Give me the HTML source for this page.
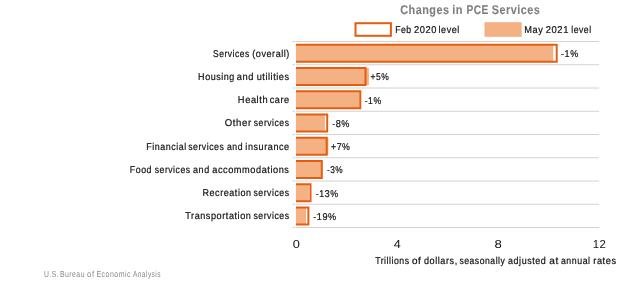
<!DOCTYPE html>
<html><head><meta charset="utf-8"><style>
html,body{margin:0;padding:0;background:#fff;width:633px;height:288px;overflow:hidden}
.wrap{will-change:transform;background:#fff;width:633px;height:288px}
svg{display:block;font-family:"Liberation Sans",sans-serif;text-rendering:geometricPrecision;letter-spacing:0.6px}
</style></head><body><div class="wrap">
<svg width="633" height="288" viewBox="0 0 633 288">
<line x1="292.5" y1="41.50" x2="599.2" y2="41.50" stroke="#D2D2D2" stroke-width="1"/>
<line x1="292.5" y1="64.75" x2="599.2" y2="64.75" stroke="#D2D2D2" stroke-width="1"/>
<line x1="292.5" y1="88.00" x2="599.2" y2="88.00" stroke="#D2D2D2" stroke-width="1"/>
<line x1="292.5" y1="111.25" x2="599.2" y2="111.25" stroke="#D2D2D2" stroke-width="1"/>
<line x1="292.5" y1="134.50" x2="599.2" y2="134.50" stroke="#D2D2D2" stroke-width="1"/>
<line x1="292.5" y1="157.75" x2="599.2" y2="157.75" stroke="#D2D2D2" stroke-width="1"/>
<line x1="292.5" y1="181.00" x2="599.2" y2="181.00" stroke="#D2D2D2" stroke-width="1"/>
<line x1="292.5" y1="204.25" x2="599.2" y2="204.25" stroke="#D2D2D2" stroke-width="1"/>
<line x1="292.5" y1="227.50" x2="599.2" y2="227.50" stroke="#D2D2D2" stroke-width="1"/>
<line x1="295.5" y1="41" x2="295.5" y2="228" stroke="#F7FAFC" stroke-width="1"/>
<rect x="296.00" y="44.80" width="257.20" height="17" fill="#F4B183"/>
<path d="M296.00 44.80H556.70V61.80H296.00" fill="none" stroke="#E65D10" stroke-width="2"/>
<rect x="296.00" y="68.05" width="72.90" height="17" fill="#F4B183"/>
<path d="M296.00 68.05H365.50V85.05H296.00" fill="none" stroke="#E65D10" stroke-width="2"/>
<rect x="296.00" y="91.30" width="63.50" height="17" fill="#F4B183"/>
<path d="M296.00 91.30H360.30V108.30H296.00" fill="none" stroke="#E65D10" stroke-width="2"/>
<rect x="296.00" y="114.55" width="28.90" height="17" fill="#F4B183"/>
<path d="M296.00 114.55H327.20V131.55H296.00" fill="none" stroke="#E65D10" stroke-width="2"/>
<rect x="296.00" y="137.80" width="32.40" height="17" fill="#F4B183"/>
<path d="M296.00 137.80H326.70V154.80H296.00" fill="none" stroke="#E65D10" stroke-width="2"/>
<rect x="296.00" y="161.05" width="25.00" height="17" fill="#F4B183"/>
<path d="M296.00 161.05H321.80V178.05H296.00" fill="none" stroke="#E65D10" stroke-width="2"/>
<rect x="296.00" y="184.30" width="12.90" height="17" fill="#F4B183"/>
<path d="M296.00 184.30H310.50V201.30H296.00" fill="none" stroke="#E65D10" stroke-width="2"/>
<rect x="296.00" y="207.55" width="10.00" height="17" fill="#F4B183"/>
<path d="M296.00 207.55H308.40V224.55H296.00" fill="none" stroke="#E65D10" stroke-width="2"/>
<rect x="355.5" y="23.2" width="35.4" height="12.6" fill="none" stroke="#E65D10" stroke-width="2"/>
<rect x="484.5" y="22.2" width="37.2" height="14.6" fill="#F4B183"/>
<text id="title_0" x="400.15" y="13.50" textLength="49.50" lengthAdjust="spacingAndGlyphs" font-size="12.6" font-weight="bold" fill="#7F7F7F" stroke="#7F7F7F" stroke-width="0.1">Changes</text>
<text id="title_1" x="452.23" y="13.50" textLength="10.80" lengthAdjust="spacingAndGlyphs" font-size="12.6" font-weight="bold" fill="#7F7F7F" stroke="#7F7F7F" stroke-width="0.1">in</text>
<text id="title_2" x="466.49" y="13.50" textLength="22.37" lengthAdjust="spacingAndGlyphs" font-size="12.6" font-weight="bold" fill="#7F7F7F" stroke="#7F7F7F" stroke-width="0.1">PCE</text>
<text id="title_3" x="491.74" y="13.50" textLength="48.57" lengthAdjust="spacingAndGlyphs" font-size="12.6" font-weight="bold" fill="#7F7F7F" stroke="#7F7F7F" stroke-width="0.1">Services</text>
<text id="leg1_0" x="395.17" y="32.50" textLength="16.54" lengthAdjust="spacingAndGlyphs" font-size="9.9" font-weight="normal" fill="#111111" stroke="#111111" stroke-width="0.2">Feb</text>
<text id="leg1_1" x="414.03" y="32.50" textLength="23.01" lengthAdjust="spacingAndGlyphs" font-size="9.9" font-weight="normal" fill="#111111" stroke="#111111" stroke-width="0.2">2020</text>
<text id="leg1_2" x="438.57" y="32.50" textLength="21.27" lengthAdjust="spacingAndGlyphs" font-size="9.9" font-weight="normal" fill="#111111" stroke="#111111" stroke-width="0.2">level</text>
<text id="leg2_0" x="524.35" y="32.50" textLength="19.17" lengthAdjust="spacingAndGlyphs" font-size="9.9" font-weight="normal" fill="#111111" stroke="#111111" stroke-width="0.2">May</text>
<text id="leg2_1" x="545.68" y="32.50" textLength="23.28" lengthAdjust="spacingAndGlyphs" font-size="9.9" font-weight="normal" fill="#111111" stroke="#111111" stroke-width="0.2">2021</text>
<text id="leg2_2" x="571.20" y="32.50" textLength="20.39" lengthAdjust="spacingAndGlyphs" font-size="9.9" font-weight="normal" fill="#111111" stroke="#111111" stroke-width="0.2">level</text>
<text id="cat0_0" x="213.08" y="56.70" textLength="36.67" lengthAdjust="spacingAndGlyphs" font-size="9.9" font-weight="normal" fill="#111111" stroke="#111111" stroke-width="0.2">Services</text>
<text id="cat0_1" x="252.27" y="56.70" textLength="37.66" lengthAdjust="spacingAndGlyphs" font-size="9.9" font-weight="normal" fill="#111111" stroke="#111111" stroke-width="0.2">(overall)</text>
<text id="pct0_0" x="561.04" y="57.10" textLength="17.77" lengthAdjust="spacingAndGlyphs" font-size="9.9" font-weight="normal" fill="#111111" stroke="#111111" stroke-width="0.2">-1%</text>
<text id="cat1_0" x="198.12" y="79.91" textLength="36.74" lengthAdjust="spacingAndGlyphs" font-size="9.9" font-weight="normal" fill="#111111" stroke="#111111" stroke-width="0.2">Housing</text>
<text id="cat1_1" x="236.82" y="79.91" textLength="17.26" lengthAdjust="spacingAndGlyphs" font-size="9.9" font-weight="normal" fill="#111111" stroke="#111111" stroke-width="0.2">and</text>
<text id="cat1_2" x="256.67" y="79.91" textLength="33.01" lengthAdjust="spacingAndGlyphs" font-size="9.9" font-weight="normal" fill="#111111" stroke="#111111" stroke-width="0.2">utilities</text>
<text id="pct1_0" x="370.53" y="80.35" textLength="18.75" lengthAdjust="spacingAndGlyphs" font-size="9.9" font-weight="normal" fill="#111111" stroke="#111111" stroke-width="0.2">+5%</text>
<text id="cat2_0" x="237.87" y="103.12" textLength="30.28" lengthAdjust="spacingAndGlyphs" font-size="9.9" font-weight="normal" fill="#111111" stroke="#111111" stroke-width="0.2">Health</text>
<text id="cat2_1" x="269.75" y="103.12" textLength="19.96" lengthAdjust="spacingAndGlyphs" font-size="9.9" font-weight="normal" fill="#111111" stroke="#111111" stroke-width="0.2">care</text>
<text id="pct2_0" x="364.69" y="103.60" textLength="17.04" lengthAdjust="spacingAndGlyphs" font-size="9.9" font-weight="normal" fill="#111111" stroke="#111111" stroke-width="0.2">-1%</text>
<text id="cat3_0" x="224.74" y="126.33" textLength="27.01" lengthAdjust="spacingAndGlyphs" font-size="9.9" font-weight="normal" fill="#111111" stroke="#111111" stroke-width="0.2">Other</text>
<text id="cat3_1" x="253.80" y="126.33" textLength="35.67" lengthAdjust="spacingAndGlyphs" font-size="9.9" font-weight="normal" fill="#111111" stroke="#111111" stroke-width="0.2">services</text>
<text id="pct3_0" x="332.14" y="126.85" textLength="17.93" lengthAdjust="spacingAndGlyphs" font-size="9.9" font-weight="normal" fill="#111111" stroke="#111111" stroke-width="0.2">-8%</text>
<text id="cat4_0" x="146.27" y="149.54" textLength="40.39" lengthAdjust="spacingAndGlyphs" font-size="9.9" font-weight="normal" fill="#111111" stroke="#111111" stroke-width="0.2">Financial</text>
<text id="cat4_1" x="188.22" y="149.54" textLength="36.09" lengthAdjust="spacingAndGlyphs" font-size="9.9" font-weight="normal" fill="#111111" stroke="#111111" stroke-width="0.2">services</text>
<text id="cat4_2" x="226.89" y="149.54" textLength="16.13" lengthAdjust="spacingAndGlyphs" font-size="9.9" font-weight="normal" fill="#111111" stroke="#111111" stroke-width="0.2">and</text>
<text id="cat4_3" x="245.37" y="149.54" textLength="44.32" lengthAdjust="spacingAndGlyphs" font-size="9.9" font-weight="normal" fill="#111111" stroke="#111111" stroke-width="0.2">insurance</text>
<text id="pct4_0" x="331.01" y="150.10" textLength="19.44" lengthAdjust="spacingAndGlyphs" font-size="9.9" font-weight="normal" fill="#111111" stroke="#111111" stroke-width="0.2">+7%</text>
<text id="cat5_0" x="129.85" y="172.75" textLength="22.22" lengthAdjust="spacingAndGlyphs" font-size="9.9" font-weight="normal" fill="#111111" stroke="#111111" stroke-width="0.2">Food</text>
<text id="cat5_1" x="154.74" y="172.75" textLength="35.80" lengthAdjust="spacingAndGlyphs" font-size="9.9" font-weight="normal" fill="#111111" stroke="#111111" stroke-width="0.2">services</text>
<text id="cat5_2" x="193.04" y="172.75" textLength="16.72" lengthAdjust="spacingAndGlyphs" font-size="9.9" font-weight="normal" fill="#111111" stroke="#111111" stroke-width="0.2">and</text>
<text id="cat5_3" x="212.24" y="172.75" textLength="77.26" lengthAdjust="spacingAndGlyphs" font-size="9.9" font-weight="normal" fill="#111111" stroke="#111111" stroke-width="0.2">accommodations</text>
<text id="pct5_0" x="326.93" y="173.35" textLength="16.24" lengthAdjust="spacingAndGlyphs" font-size="9.9" font-weight="normal" fill="#111111" stroke="#111111" stroke-width="0.2">-3%</text>
<text id="cat6_0" x="202.49" y="195.96" textLength="49.10" lengthAdjust="spacingAndGlyphs" font-size="9.9" font-weight="normal" fill="#111111" stroke="#111111" stroke-width="0.2">Recreation</text>
<text id="cat6_1" x="253.39" y="195.96" textLength="36.16" lengthAdjust="spacingAndGlyphs" font-size="9.9" font-weight="normal" fill="#111111" stroke="#111111" stroke-width="0.2">services</text>
<text id="pct6_0" x="315.83" y="196.60" textLength="22.77" lengthAdjust="spacingAndGlyphs" font-size="9.9" font-weight="normal" fill="#111111" stroke="#111111" stroke-width="0.2">-13%</text>
<text id="cat7_0" x="185.27" y="219.17" textLength="66.14" lengthAdjust="spacingAndGlyphs" font-size="9.9" font-weight="normal" fill="#111111" stroke="#111111" stroke-width="0.2">Transportation</text>
<text id="cat7_1" x="253.39" y="219.17" textLength="36.16" lengthAdjust="spacingAndGlyphs" font-size="9.9" font-weight="normal" fill="#111111" stroke="#111111" stroke-width="0.2">services</text>
<text id="pct7_0" x="313.27" y="219.85" textLength="23.47" lengthAdjust="spacingAndGlyphs" font-size="9.9" font-weight="normal" fill="#111111" stroke="#111111" stroke-width="0.2">-19%</text>
<text id="ax0_0" x="292.67" y="247.80" textLength="7.78" lengthAdjust="spacingAndGlyphs" font-size="11.5" font-weight="normal" fill="#111111">0</text>
<text id="ax4_0" x="393.74" y="247.80" textLength="7.67" lengthAdjust="spacingAndGlyphs" font-size="11.5" font-weight="normal" fill="#111111">4</text>
<text id="ax8_0" x="494.52" y="247.80" textLength="7.97" lengthAdjust="spacingAndGlyphs" font-size="11.5" font-weight="normal" fill="#111111">8</text>
<text id="ax12_0" x="592.64" y="247.80" textLength="13.83" lengthAdjust="spacingAndGlyphs" font-size="11.5" font-weight="normal" fill="#111111">12</text>
<text id="axt_0" x="375.15" y="263.60" textLength="34.49" lengthAdjust="spacingAndGlyphs" font-size="9.9" font-weight="normal" fill="#111111" stroke="#111111" stroke-width="0.2">Trillions</text>
<text id="axt_1" x="411.95" y="263.60" textLength="9.45" lengthAdjust="spacingAndGlyphs" font-size="9.9" font-weight="normal" fill="#111111" stroke="#111111" stroke-width="0.2">of</text>
<text id="axt_2" x="424.02" y="263.60" textLength="33.70" lengthAdjust="spacingAndGlyphs" font-size="9.9" font-weight="normal" fill="#111111" stroke="#111111" stroke-width="0.2">dollars,</text>
<text id="axt_3" x="459.39" y="263.60" textLength="46.02" lengthAdjust="spacingAndGlyphs" font-size="9.9" font-weight="normal" fill="#111111" stroke="#111111" stroke-width="0.2">seasonally</text>
<text id="axt_4" x="508.05" y="263.60" textLength="38.21" lengthAdjust="spacingAndGlyphs" font-size="9.9" font-weight="normal" fill="#111111" stroke="#111111" stroke-width="0.2">adjusted</text>
<text id="axt_5" x="549.28" y="263.60" textLength="9.66" lengthAdjust="spacingAndGlyphs" font-size="9.9" font-weight="normal" fill="#111111" stroke="#111111" stroke-width="0.2">at</text>
<text id="axt_6" x="560.95" y="263.60" textLength="29.63" lengthAdjust="spacingAndGlyphs" font-size="9.9" font-weight="normal" fill="#111111" stroke="#111111" stroke-width="0.2">annual</text>
<text id="axt_7" x="593.27" y="263.60" textLength="23.30" lengthAdjust="spacingAndGlyphs" font-size="9.9" font-weight="normal" fill="#111111" stroke="#111111" stroke-width="0.2">rates</text>
<text id="src_0" x="44.06" y="277.00" textLength="15.15" lengthAdjust="spacingAndGlyphs" font-size="8.7" font-weight="normal" fill="#8A8A8A">U.S.</text>
<text id="src_1" x="59.95" y="277.00" textLength="24.99" lengthAdjust="spacingAndGlyphs" font-size="8.7" font-weight="normal" fill="#8A8A8A">Bureau</text>
<text id="src_2" x="87.11" y="277.00" textLength="7.57" lengthAdjust="spacingAndGlyphs" font-size="8.7" font-weight="normal" fill="#8A8A8A">of</text>
<text id="src_3" x="96.44" y="277.00" textLength="34.63" lengthAdjust="spacingAndGlyphs" font-size="8.7" font-weight="normal" fill="#8A8A8A">Economic</text>
<text id="src_4" x="132.91" y="277.00" textLength="28.11" lengthAdjust="spacingAndGlyphs" font-size="8.7" font-weight="normal" fill="#8A8A8A">Analysis</text>
</svg></div>
</body></html>
